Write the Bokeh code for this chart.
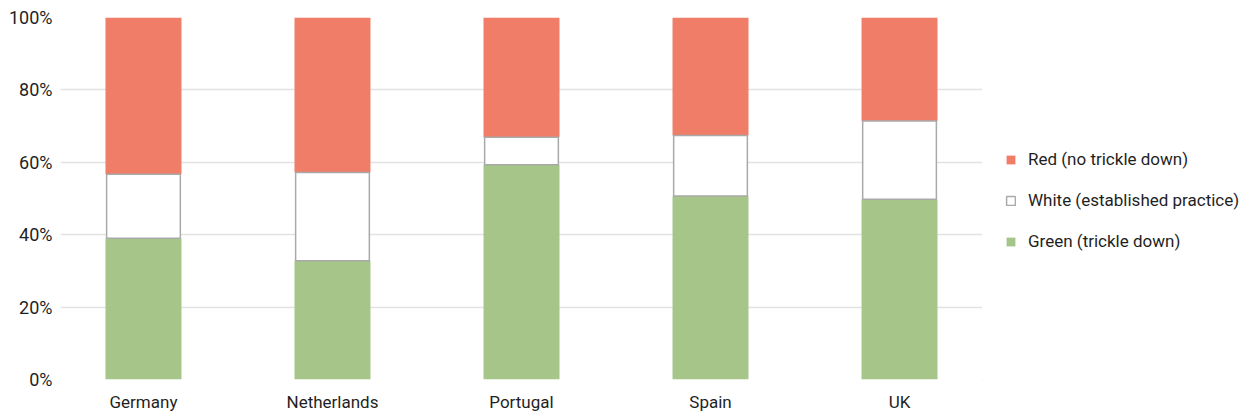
from bokeh.plotting import figure
from bokeh.layouts import row
from bokeh.models import Range1d, FixedTicker, Legend, LegendItem, ColumnDataSource
from bokeh.embed import file_html
from bokeh.resources import INLINE

# Share of responses per country (percent)
countries = ["Germany", "Netherlands", "Portugal", "Spain", "UK"]
green_share = [39.0, 32.8, 59.3, 50.7, 49.8]   # Green (trickle down)
white_share = [17.7, 24.4, 7.6, 16.7, 21.6]    # White (established practice)
red_share = [43.3, 42.8, 33.1, 32.6, 28.6]     # Red (no trickle down)
series_labels = ["Red (no trickle down)", "White (established practice)", "Green (trickle down)"]
y_ticks = [0, 20, 40, 60, 80, 100]

FONT = "Roboto"
TEXT = "#1f1f1f"
GREEN = "#A5C589"
RED = "#EF7D68"
OUTLINE = "#A9A9A9"

xs = list(range(len(countries)))
g_top = [g for g in green_share]
w_top = [g + w for g, w in zip(green_share, white_share)]
r_top = [g + w + r for g, w, r in zip(green_share, white_share, red_share)]

src = ColumnDataSource(dict(
    x=xs,
    g_bottom=[0] * len(xs), g_top=g_top,
    w_bottom=g_top, w_top=w_top,
    r_bottom=w_top, r_top=r_top,
))

# ---- main stacked-bar chart ----
p = figure(
    width=982, height=417,
    x_range=Range1d(-0.439, len(xs) - 1 + 0.439),
    y_range=Range1d(0, 100),
    output_backend="svg", toolbar_location=None,
    min_border_left=60, min_border_right=0,
    min_border_top=17, min_border_bottom=38,
)
p.outline_line_color = None
p.background_fill_color = "white"
p.border_fill_color = "white"

bar_w = 0.402
p.vbar(x="x", bottom="g_bottom", top="g_top", width=bar_w, source=src,
       fill_color=GREEN, line_color=None)
p.vbar(x="x", bottom="r_bottom", top="r_top", width=bar_w, source=src,
       fill_color=RED, line_color=None)
p.vbar(x="x", bottom="w_bottom", top="w_top", width=bar_w - 0.012, source=src,
       fill_color="white", line_color=OUTLINE, line_width=1.5)

p.xaxis.ticker = FixedTicker(ticks=xs)
p.xaxis.major_label_overrides = {i: c for i, c in zip(xs, countries)}
p.yaxis.ticker = FixedTicker(ticks=y_ticks)
p.yaxis.major_label_overrides = {t: f"{t}%" for t in y_ticks}
for ax in (p.xaxis, p.yaxis):
    ax.axis_line_color = None
    ax.major_tick_line_color = None
    ax.minor_tick_line_color = None
    ax.major_tick_out = 0
    ax.major_tick_in = 0
    ax.minor_tick_out = 0
    ax.minor_tick_in = 0
    ax.major_label_text_font = FONT
    ax.major_label_text_font_size = "17px"
    ax.major_label_text_color = TEXT
p.xaxis.major_label_standoff = 12
p.yaxis.major_label_standoff = 8
p.yaxis.major_label_text_font_size = "18px"

p.xgrid.grid_line_color = None
p.ygrid.grid_line_color = "#e2e2e2"
p.ygrid.grid_line_width = 1.5
p.ygrid.ticker = FixedTicker(ticks=y_ticks)

# ---- legend panel to the right ----
lg = figure(
    width=269, height=417,
    x_range=Range1d(0, 1), y_range=Range1d(0, 1),
    x_axis_type=None, y_axis_type=None,
    output_backend="svg", toolbar_location=None,
    min_border=0,
)
lg.outline_line_color = None
lg.xgrid.grid_line_color = None
lg.ygrid.grid_line_color = None
# legend proxies: zero-height bars parked outside the visible range
proxy = dict(x=[-5], top=[0], bottom=[0], width=0.1)
swatches = [
    lg.vbar(**proxy, fill_color=RED, line_color=None),
    lg.vbar(**proxy, fill_color="white", line_color=OUTLINE, line_width=1.5),
    lg.vbar(**proxy, fill_color=GREEN, line_color=None),
]
legend = Legend(
    items=[LegendItem(label=lab, renderers=[rd]) for lab, rd in zip(series_labels, swatches)],
    location=(23, 128),
    orientation="vertical",
    glyph_width=11, glyph_height=11,
    label_standoff=12, spacing=21, label_height=20,
    padding=0, margin=0,
    border_line_color=None, background_fill_alpha=0,
    label_text_font=FONT, label_text_font_size="17px", label_text_color=TEXT,
)
lg.add_layout(legend, "center")

layout = row(p, lg)
open("out.html", "w").write(file_html(layout, INLINE))
